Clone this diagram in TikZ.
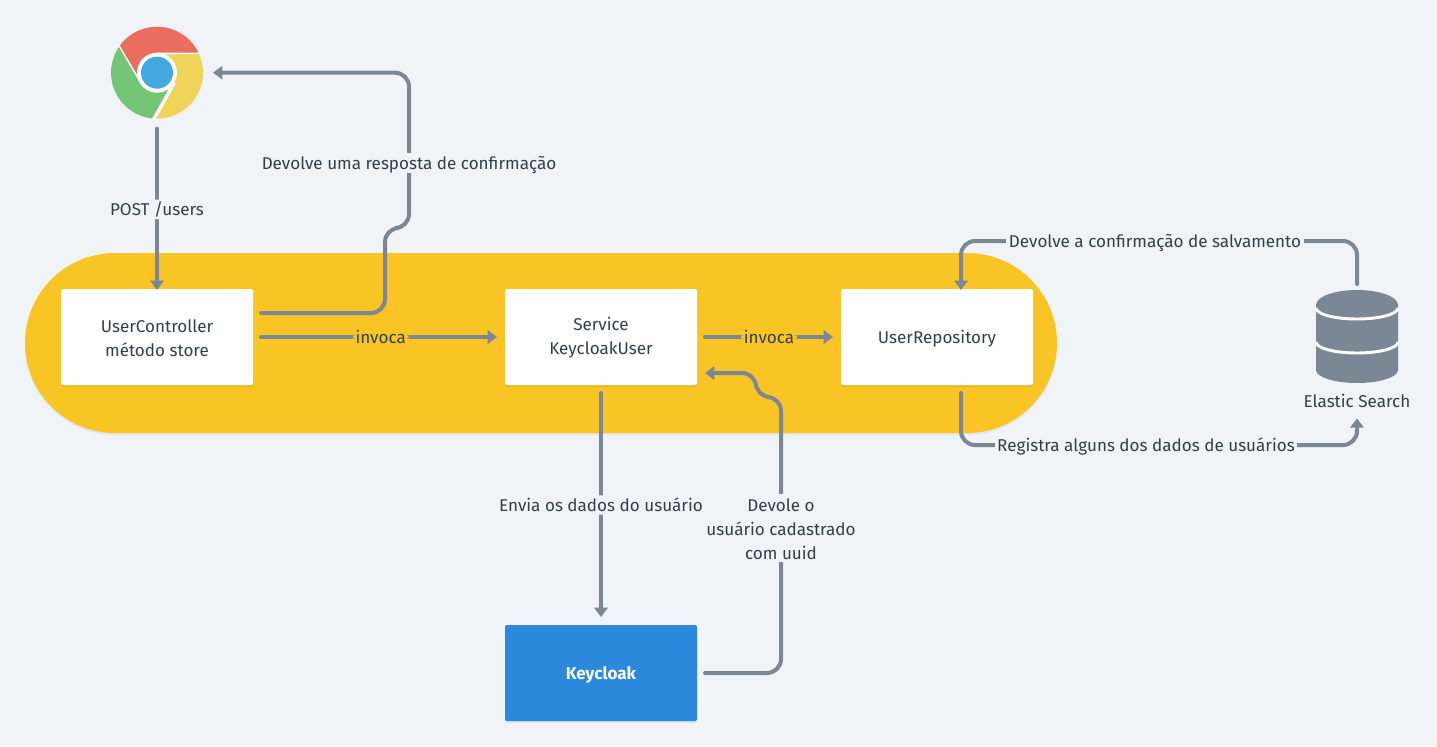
\documentclass[tikz,border=0pt]{standalone}
\usepackage{fontspec}
\setmainfont{Fira Sans}
\usetikzlibrary{arrows.meta}
\definecolor{pagebg}{HTML}{F0F4F8}
\definecolor{pillcol}{HTML}{F8C525}
\definecolor{linecol}{HTML}{7B8794}
\definecolor{textcol}{HTML}{323F4B}
\definecolor{keycol}{HTML}{2B88DA}
\definecolor{chromered}{HTML}{EB6D60}
\definecolor{chromeyellow}{HTML}{F0D359}
\definecolor{chromegreen}{HTML}{74C677}
\definecolor{chromeblue}{HTML}{43A8E0}
\newcommand{\topstrut}{\rule{0pt}{10.8pt}}
\tikzset{
  oneline/.style={text height=10pt, text depth=0.5pt},
  box/.style={fill=white, rounded corners=1.5pt, minimum width=144pt, minimum height=72pt, outer sep=6pt, align=center, text=textcol, font=\fontsize{12.8}{18}\selectfont},
  conn/.style={draw=linecol, line width=3pt, rounded corners=10.5pt, line cap=round},
  arr/.style={conn, -{Triangle[length=7pt,width=10pt]}},
  lbl/.style={text=textcol, font=\fontsize{12.8}{18}\selectfont, align=center, inner sep=2pt, fill=pagebg},
  lblpill/.style={lbl, oneline, fill=pillcol},
}
\begin{document}
\begin{tikzpicture}[x=0.75pt, y=-0.75pt]
  \fill[pagebg] (0,0) rectangle (1437,746);
  \useasboundingbox (0,0) rectangle (1437,746);

  % yellow band
  \fill[black, opacity=0.05, rounded corners=67.5pt] (25,255) rectangle (1057,435);
  \fill[pillcol, rounded corners=67.5pt] (25,253) rectangle (1057,433);

  % boxes
  \fill[black, opacity=0.06, rounded corners=1.5pt] (61,291) rectangle (253,387);
  \fill[black, opacity=0.06, rounded corners=1.5pt] (505,291) rectangle (697,387);
  \fill[black, opacity=0.06, rounded corners=1.5pt] (841,291) rectangle (1033,387);
  \fill[black, opacity=0.06, rounded corners=1.5pt] (505,627) rectangle (697,723);
  \node[box] (ctrl) at (157,337) {\topstrut UserController\\método store};
  \node[box] (service) at (601,337) {\topstrut Service\\KeycloakUser};
  \node[box, oneline] (repo) at (937,337) {UserRepository};
  \node[box, oneline, fill=keycol, text=white, font=\fontsize{12.8}{18}\selectfont\bfseries] (keycloak) at (601,673) {Keycloak};

  % browser icon
  \node[circle, minimum size=69pt, inner sep=0pt, outer sep=7.5pt] (chrome) at (157,72.7) {};
  \begin{scope}[shift={(chrome.center)}, x=0.75pt, y=0.75pt]
    \foreach \ang/\col in {0/chromeyellow, 120/chromered, 240/chromegreen} {
      \fill[\col, rotate=\ang] (0,20) -- (25.8:46) arc (25.8:-94.2:46) -- (17.3,-10) -- cycle;
      \draw[white, line width=2.6pt, rotate=\ang] (0,20) -- (25.8:47);
    }
    \fill[white] (0,0) circle (20);
    \fill[chromeblue] (0,0) circle (16);
  \end{scope}

  % database
  \node[minimum width=61.5pt, minimum height=69.75pt, inner sep=0pt, outer sep=4.5pt] (elastic) at (1357,336.5) {};
  \fill[linecol] (1316,305) arc[start angle=180, end angle=0, x radius=41, y radius=-15] -- (1398,370) arc[start angle=0, end angle=180, x radius=41, y radius=13] -- cycle;
  \draw[white, line width=2.2pt] (1316,308) arc[start angle=180, end angle=360, x radius=41, y radius=-11];
  \draw[white, line width=2.2pt] (1316,342) arc[start angle=180, end angle=360, x radius=41, y radius=-11];
  \node[lbl, oneline, fill=none, inner sep=0pt, outer sep=6pt, minimum height=14pt] (elasticlabel) at (1357,401) {Elastic Search};

  % connectors
  \draw[arr] (chrome.south) -- ([yshift=-6.75pt]ctrl.north) node[lbl, oneline, midway] (postlabel) {POST /users};
  \draw[arr] ([yshift=18pt]ctrl.east) -- (385,313) -- (385,228) -- (409,228) -- (409,72.7) -- (chrome.east);
  \node[lbl, oneline] (backlabel) at (409,163) {Devolve uma resposta de confirmação};
  \draw[arr] (ctrl.east) -- (service.west) node[lblpill, pos=0.507] (invocaone) {invoca};
  \draw[arr] (service.east) -- (repo.west) node[lblpill, midway] (invocatwo) {invoca};
  \draw[arr] (service.south) -- (keycloak.north) node[lbl, oneline, pos=0.5] (sendlabel) {Envia os dados do usuário};
  \draw[arr] (keycloak.east) -- (781,673) -- (781,397) -- (756,397) -- (756,373) -- ([yshift=-27pt]service.east);
  \node[lbl] (uuidlabel) at (781,528) {\topstrut Devole o\\usuário cadastrado\\com uuid};
  \draw[arr] (elastic.north) -- (1357,241) -- (961,241) -- ([xshift=18pt,yshift=-6.75pt]repo.north);
  \node[lbl, oneline] (savedlabel) at (1155,241) {Devolve a confirmação de salvamento};
  \draw[arr] ([xshift=18pt]repo.south) -- (961,445) -- (1357,445) -- (elasticlabel.south);
  \node[lbl, oneline] (savelabel) at (1146,445) {Registra alguns dos dados de usuários};
\end{tikzpicture}
\end{document}
